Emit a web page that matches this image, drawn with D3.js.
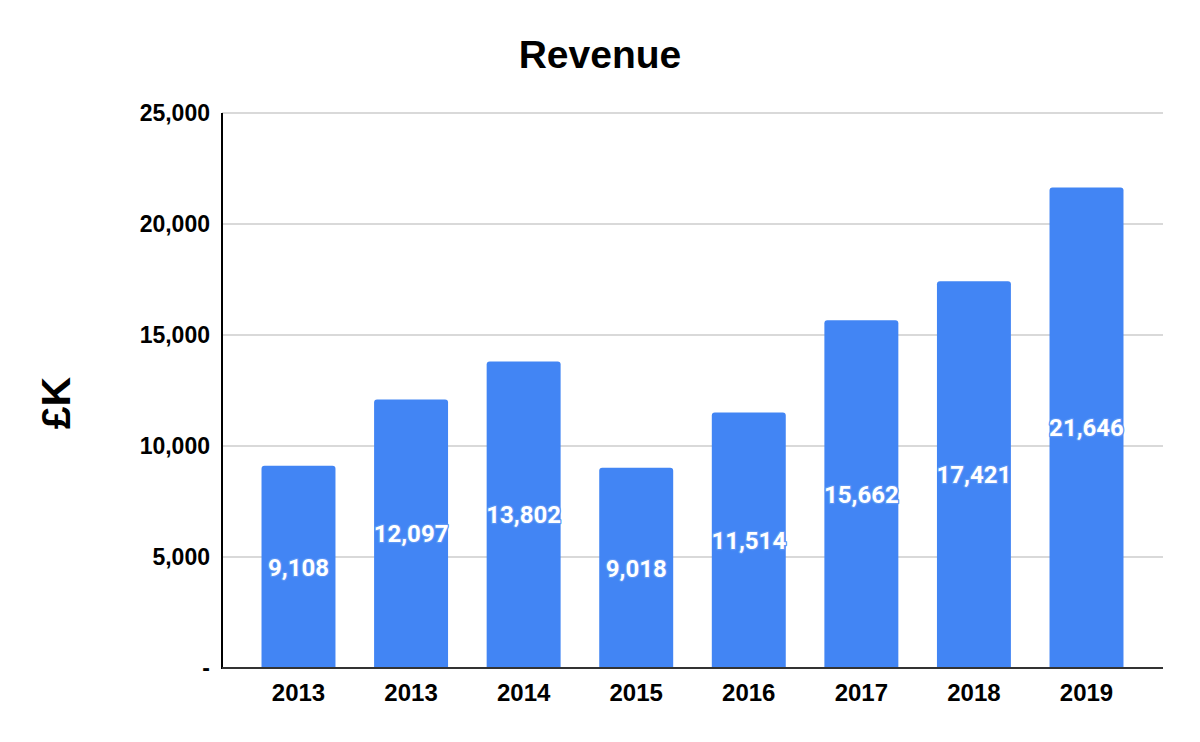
<!DOCTYPE html>
<html><head><meta charset="utf-8">
<script src="https://cdn.jsdelivr.net/npm/d3@7"></script>
<style>body{margin:0;background:#fff}</style>
</head><body>
<svg id="c" width="1200" height="742"></svg>
<script>
const categories = ["2013","2013","2014","2015","2016","2017","2018","2019"];
const revenue = [9108,12097,13802,9018,11514,15662,17421,21646];
const yTicks = [0,5000,10000,15000,20000,25000];
const title = "Revenue";
const yTitle = "£K";

const svg = d3.select("#c");
const L = 222, R = 1163, T = 113, B = 668;
const x = d3.scaleBand().domain(d3.range(categories.length)).range([L,R]).paddingInner(0.343).paddingOuter(0.351);
const y = d3.scaleLinear().domain([0,25000]).range([B,T]);
const fmt = d3.format(",");

svg.append("text").attr("x",600).attr("y",68).attr("text-anchor","middle")
  .attr("font-family","Liberation Sans, Arial").attr("font-weight","bold").attr("font-size",39).text(title);

svg.append("text").attr("transform","translate(70,403) rotate(-90)").attr("text-anchor","middle")
  .attr("font-family","Liberation Sans, Arial").attr("font-weight","bold").attr("font-size",41).text(yTitle);

// grid
svg.append("g").selectAll("line").data(yTicks.filter(d=>d>0)).join("line")
  .attr("x1",L).attr("x2",R).attr("y1",d=>y(d)).attr("y2",d=>y(d))
  .attr("stroke","#cccccc").attr("stroke-width",1.5);

// y tick labels
svg.append("g").selectAll("text").data(yTicks).join("text")
  .attr("x",210).attr("y",d=>y(d)).attr("dy","0.36em").attr("text-anchor","end")
  .attr("font-family","Liberation Sans, Arial").attr("font-weight","bold").attr("font-size",23)
  .text(d=>d===0?"-":fmt(d));

// bars with rounded tops
const r = 3;
svg.append("g").selectAll("path").data(revenue).join("path")
  .attr("fill","#4285f4")
  .attr("d",(d,i)=>{
    const x0 = x(i), w = x.bandwidth(), yt = y(d), yb = y(0);
    return `M${x0},${yb}V${yt+r}Q${x0},${yt} ${x0+r},${yt}H${x0+w-r}Q${x0+w},${yt} ${x0+w},${yt+r}V${yb}Z`;
  });

// axes lines
svg.append("line").attr("x1",L).attr("x2",L).attr("y1",T).attr("y2",B+1).attr("stroke","#000").attr("stroke-width",2);
svg.append("line").attr("x1",L).attr("x2",R).attr("y1",B).attr("y2",B).attr("stroke","#333").attr("stroke-width",2);

// x labels
svg.append("g").selectAll("text").data(categories).join("text")
  .attr("x",(d,i)=>x(i)+x.bandwidth()/2).attr("y",701).attr("text-anchor","middle")
  .attr("font-family","Liberation Sans, Arial").attr("font-weight","bold").attr("font-size",24).text(d=>d);

// data labels
svg.append("g").selectAll("text").data(revenue).join("text")
  .attr("x",(d,i)=>x(i)+x.bandwidth()/2).attr("y",d=>(y(d)+y(0))/2).attr("dy","0.36em")
  .attr("text-anchor","middle").attr("font-family","Roboto").attr("font-weight","bold").attr("font-size",24)
  .attr("fill","#fff").attr("stroke","#5b95f5").attr("stroke-width",2.5).attr("paint-order","stroke")
  .attr("stroke-linejoin","round")
  .text(d=>fmt(d));
</script>
</body></html>
